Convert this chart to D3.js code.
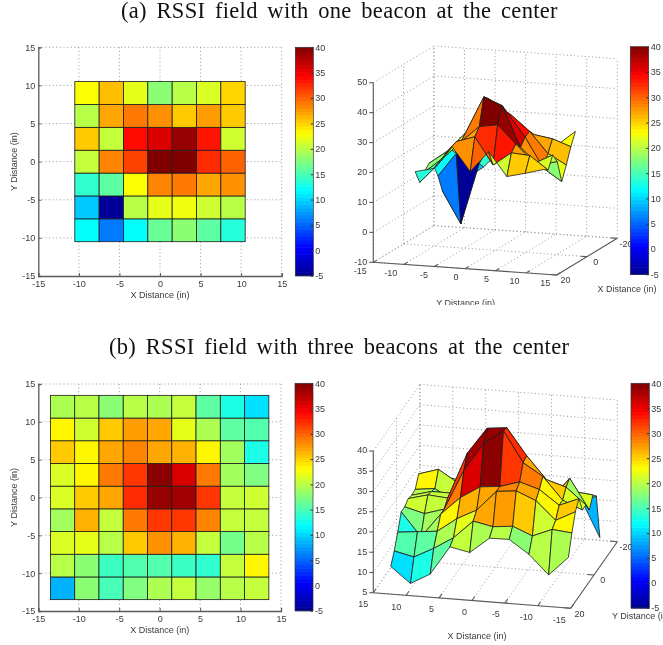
<!DOCTYPE html>
<html><head><meta charset="utf-8">
<script src="https://cdnjs.cloudflare.com/ajax/libs/d3/7.8.5/d3.min.js"></script>
<style>
html,body{margin:0;padding:0;background:#fff;overflow:hidden}
svg{display:block;filter:blur(0.35px)}
text{font-family:"Liberation Sans",Arial,sans-serif;fill:#3a3a3a;font-size:9px}
.title{font-family:"Liberation Serif",serif;fill:#111;font-size:22.5px;letter-spacing:.3px;word-spacing:3.75px}
</style></head><body>
<svg id="c" width="663" height="645"></svg>
<script>
const titleA = "(a) RSSI field with one beacon at the center";
const titleB = "(b) RSSI field with three beacons at the center";
const xLabel = "X Distance (in)";
const yLabel = "Y Distance (in)";
const ticks2D = [-15,-10,-5,0,5,10,15];
const cbTicks = [40,35,30,25,20,15,10,5,0,-5];
const depthTicks = [20,0,-20];
const zTicksA = [-10,0,10,20,30,40,50];
const zTicksB = [5,10,15,20,25,30,35,40];

const gridA = [-10.5,-7.5,-4.5,-1.5,1.5,4.5,7.5,10.5];
const gridB = [-13.5,-10.5,-7.5,-4.5,-1.5,1.5,4.5,7.5,10.5,13.5];

// rows: y ascending, cols: x ascending
const fieldA = [
 [12,6,12,16.5,18,16,13.5,18],
 [9.5,-4.5,20,22,22.5,21,20,19.5],
 [14,16,23,28.5,29,27,28,27.3],
 [20.5,28.5,31.5,40,41.5,32.5,30,19.3],
 [25.5,20.5,34,36,39,33.5,21,26.4],
 [20,27,29,28,25.5,27.5,25.5,18.5],
 [23,26,22,18,20,21.5,25,20],
 [28,23.8,18.6,14,21.6,24.7,20.6,21.7]
];
const fieldB = [
 [8.5,18,15,17.5,19.5,20.5,18.5,20,20.5,19],
 [20,18,14.5,15.5,15.5,14.5,14,20.5,23.5,22],
 [21.5,22,20,25.5,28,26.5,20.5,17,20,19.4],
 [19,26.5,20.5,29,32,32,28.5,20.5,20.5,19.2],
 [21.5,25.5,27,32.5,39,38.5,32,20.5,20.9,19.6],
 [21.5,23.5,29,32,39.5,36,29,19,17.5,18.8],
 [25.5,23.5,27,28.5,27,26.5,23.5,19,13,18.8],
 [23.5,21,25.5,27.5,27,22,19.5,16,15.5,15],
 [19.5,20,18,20,19.5,20.5,16,13,10.5,11.6],
 [14.7,10,14.7,18,17.9,14,15,7.9,5.2,9]
];

const jet = d3.scaleLinear()
  .domain([0,0.125,0.375,0.625,0.875,1].map(t=>-5+45*t))
  .range(["#00008f","#0000ff","#00ffff","#ffff00","#ff0000","#800000"])
  .clamp(true);

const svg = d3.select("#c");
const AX = "#5a5a5a", GRID = "#8c8c8c";
const dots = "1 2.6";

svg.append("text").attr("class","title").attr("x",121).attr("y",18.3).text(titleA);
svg.append("text").attr("class","title").attr("x",109).attr("y",354.3).text(titleB);

function colorbar(x0,x1,y0,y1){
  const g = svg.append("g");
  const s = d3.scaleLinear().domain([-5,40]).range([y1,y0]);
  const steps = d3.range(64);
  g.selectAll("rect").data(steps).join("rect")
    .attr("x",x0).attr("width",x1-x0)
    .attr("y",i=>s(-5+45*(i+1)/64)).attr("height",(y1-y0)/64+0.6)
    .attr("fill",i=>jet(-5+45*(i+0.5)/64));
  g.append("rect").attr("x",x0).attr("y",y0).attr("width",x1-x0).attr("height",y1-y0)
    .attr("fill","none").attr("stroke","#333").attr("stroke-width",0.7);
  const a = d3.axisRight(s).tickValues(cbTicks).tickSize(-2.5).tickPadding(4).tickFormat(d=>String(d));
  const ag = g.append("g").attr("transform",`translate(${x1},0)`).call(a);
  ag.select(".domain").remove();
  ag.selectAll("text").attr("x",2);
  ag.selectAll("line").attr("stroke","#333");
  ag.attr("font-family",null).attr("font-size",null);
}

function pcolor(grid,field,x0,x1,y0,y1){
  const g = svg.append("g");
  const sx = d3.scaleLinear().domain([-15,15]).range([x0,x1]);
  const sy = d3.scaleLinear().domain([-15,15]).range([y1,y0]);
  g.selectAll(".gx").data(ticks2D.slice(1)).join("line").attr("class","gx")
    .attr("x1",d=>sx(d)).attr("x2",d=>sx(d)).attr("y1",y0).attr("y2",y1)
    .attr("stroke",GRID).attr("stroke-dasharray",dots).attr("stroke-width",0.9);
  g.selectAll(".gy").data(ticks2D.slice(1)).join("line").attr("class","gy")
    .attr("y1",d=>sy(d)).attr("y2",d=>sy(d)).attr("x1",x0).attr("x2",x1)
    .attr("stroke",GRID).attr("stroke-dasharray",dots).attr("stroke-width",0.9);
  const cells=[];
  for(let r=0;r<grid.length-1;r++)for(let c=0;c<grid.length-1;c++)cells.push({r,c,v:field[r][c]});
  g.selectAll(".cell").data(cells).join("rect").attr("class","cell")
    .attr("x",d=>sx(grid[d.c])).attr("width",d=>sx(grid[d.c+1])-sx(grid[d.c]))
    .attr("y",d=>sy(grid[d.r+1])).attr("height",d=>sy(grid[d.r])-sy(grid[d.r+1]))
    .attr("fill",d=>jet(d.v)).attr("stroke","#1c1c1c").attr("stroke-width",0.8);
  const fmt=d=>String(d);
  const ax = g.append("g").attr("transform",`translate(0,${y1})`)
    .call(d3.axisBottom(sx).tickValues(ticks2D).tickSize(-3).tickPadding(3).tickFormat(fmt));
  const ay = g.append("g").attr("transform",`translate(${x0},0)`)
    .call(d3.axisLeft(sy).tickValues(ticks2D).tickSize(-3).tickPadding(3).tickFormat(fmt));
  [ax,ay].forEach(a=>{a.attr("font-family",null).attr("font-size",null);
    a.select(".domain").attr("stroke",AX).attr("stroke-width",1.3);
    a.selectAll("line").attr("stroke",AX);});
  ax.selectAll("text").attr("y",5);
  svg.append("text").attr("x",(x0+x1)/2).attr("y",y1+22).attr("text-anchor","middle").text(xLabel);
  svg.append("text").attr("transform",`translate(17,${(y0+y1)/2}) rotate(-90)`).attr("text-anchor","middle").text(yLabel);
}

function surf3d(grid,field,p){
  const g = svg.append("g");
  const fx=d3.scaleLinear().domain(p.fd).range([p.o[0],p.f[0]]);
  const fy=d3.scaleLinear().domain(p.fd).range([p.o[1],p.f[1]]);
  const dx=d3.scaleLinear().domain(p.dd).range([0,p.b[0]-p.f[0]]);
  const dy=d3.scaleLinear().domain(p.dd).range([0,p.b[1]-p.f[1]]);
  const zs=d3.scaleLinear().domain(p.zd).range([0,p.zTop-p.o[1]]);
  const floor=(f,d)=>[fx(f)+dx(d),fy(f)+dy(d)];
  const P=(f,d,z)=>{const q=floor(f,d);return [q[0],q[1]+zs(z)];};
  const ln=(a,b)=>g.append("line").attr("x1",a[0]).attr("y1",a[1]).attr("x2",b[0]).attr("y2",b[1]);
  const gl=(a,b)=>ln(a,b).attr("stroke",GRID).attr("stroke-dasharray",dots).attr("stroke-width",0.9);
  const [f0,f1]=p.fd,[d0,d1]=p.dd,[z0,z1]=p.zd;
  p.ft.forEach(t=>{gl(P(t,d0,z0),P(t,d1,z0));gl(P(t,d1,z0),P(t,d1,z1));});
  depthTicks.forEach(t=>{gl(P(f0,t,z0),P(f1,t,z0));gl(P(f0,t,z0),P(f0,t,z1));});
  p.zt.forEach(t=>{gl(P(f0,d0,t),P(f0,d1,t));gl(P(f0,d1,t),P(f1,d1,t));});
  const as=(a,b)=>ln(a,b).attr("stroke",AX).attr("stroke-width",1.1);
  as(P(f0,d0,z0),P(f1,d0,z0));
  as(P(f1,d0,z0),P(f1,d1,z0));
  as(P(f0,d0,z0),P(f0,d0,z1));
  p.zt.forEach(t=>{const a=P(f0,d0,t);as(a,[a[0]-4,a[1]]);});
  const label=(xy,t,anchor)=>g.append("text").attr("x",xy[0]).attr("y",xy[1]).attr("text-anchor",anchor).attr("dominant-baseline","middle").text(t);
  p.zt.forEach(t=>{const a=P(f0,d0,t);label([a[0]-6,a[1]],t,"end");});
  p.ft.forEach(t=>{const a=P(t,d0,z0),e=P(t,d0+(d1-d0)*0.06,z0);as(a,e);label([a[0]+p.fo[0],a[1]+p.fo[1]],t,"end");});
  depthTicks.forEach(t=>{const a=P(f1,t,z0),e=[a[0]-(fx(f1)-fx(f0))*0.035,a[1]-(fy(f1)-fy(f0))*0.035];as(a,e);label([a[0]+8.7,a[1]+6],t,"middle");});
  const cells=[];
  const n=grid.length;
  for(let r=0;r<n-1;r++)for(let c=0;c<n-1;c++){
    const v=(rr,cc)=>p.P3(P,grid[cc],grid[rr],field[rr][cc]);
    const pts=[v(r,c),v(r,c+1),v(r+1,c+1),v(r+1,c)];
    const fl=p.P3((f,d)=>floor(f,d),(grid[c]+grid[c+1])/2,(grid[r]+grid[r+1])/2,0);
    cells.push({pts,v:field[r][c],key:fl[1]});
  }
  cells.sort((a,b)=>d3.ascending(a.key,b.key));
  const line=d3.line();
  g.selectAll(".f").data(cells).join("path").attr("class","f")
    .attr("d",d=>line(d.pts)+"Z").attr("fill",d=>jet(d.v))
    .attr("stroke","#1c1c1c").attr("stroke-width",0.8).attr("stroke-linejoin","round");
}

svg.append("clipPath").attr("id","clipTR").append("rect").attr("x",330).attr("y",290).attr("width",333).attr("height",15);

pcolor(gridA,fieldA,38.3,281.7,47.3,276);
colorbar(295.3,313.3,47.3,275.7);

surf3d(gridA,fieldA,{
  fd:[-15,15],o:[373.3,262.3],f:[556.7,275],dd:[20,-20],b:[617.3,238.3],
  zd:[-10,50],zTop:82.7,zt:zTicksA,ft:ticks2D,fo:[-6.5,9],
  P3:(P,x,y,z)=>P(y,x,z)
});
colorbar(630.3,648.7,46.7,274.3);
svg.append("text").attr("x",627).attr("y",292).attr("text-anchor","middle").text(xLabel);
svg.append("text").attr("x",465.7).attr("y",306).attr("text-anchor","middle").attr("clip-path","url(#clipTR)").text(yLabel);

pcolor(gridB,fieldB,38.3,281,384,611);
colorbar(295,313,383.3,610.7);

surf3d(gridB,fieldB,{
  fd:[15,-15],o:[373.3,592.7],f:[570.7,608.3],dd:[20,-20],b:[617.3,541.7],
  zd:[5,40],zTop:451,zt:zTicksB,ft:ticks2D.slice().reverse(),fo:[-5,12],
  P3:(P,x,y,z)=>P(x,y,z)
});
colorbar(631,649.3,383.3,608);
svg.append("text").attr("x",477).attr("y",639).attr("text-anchor","middle").text(xLabel);
svg.append("text").attr("x",612).attr("y",619).text(yLabel);
</script>
</body></html>
